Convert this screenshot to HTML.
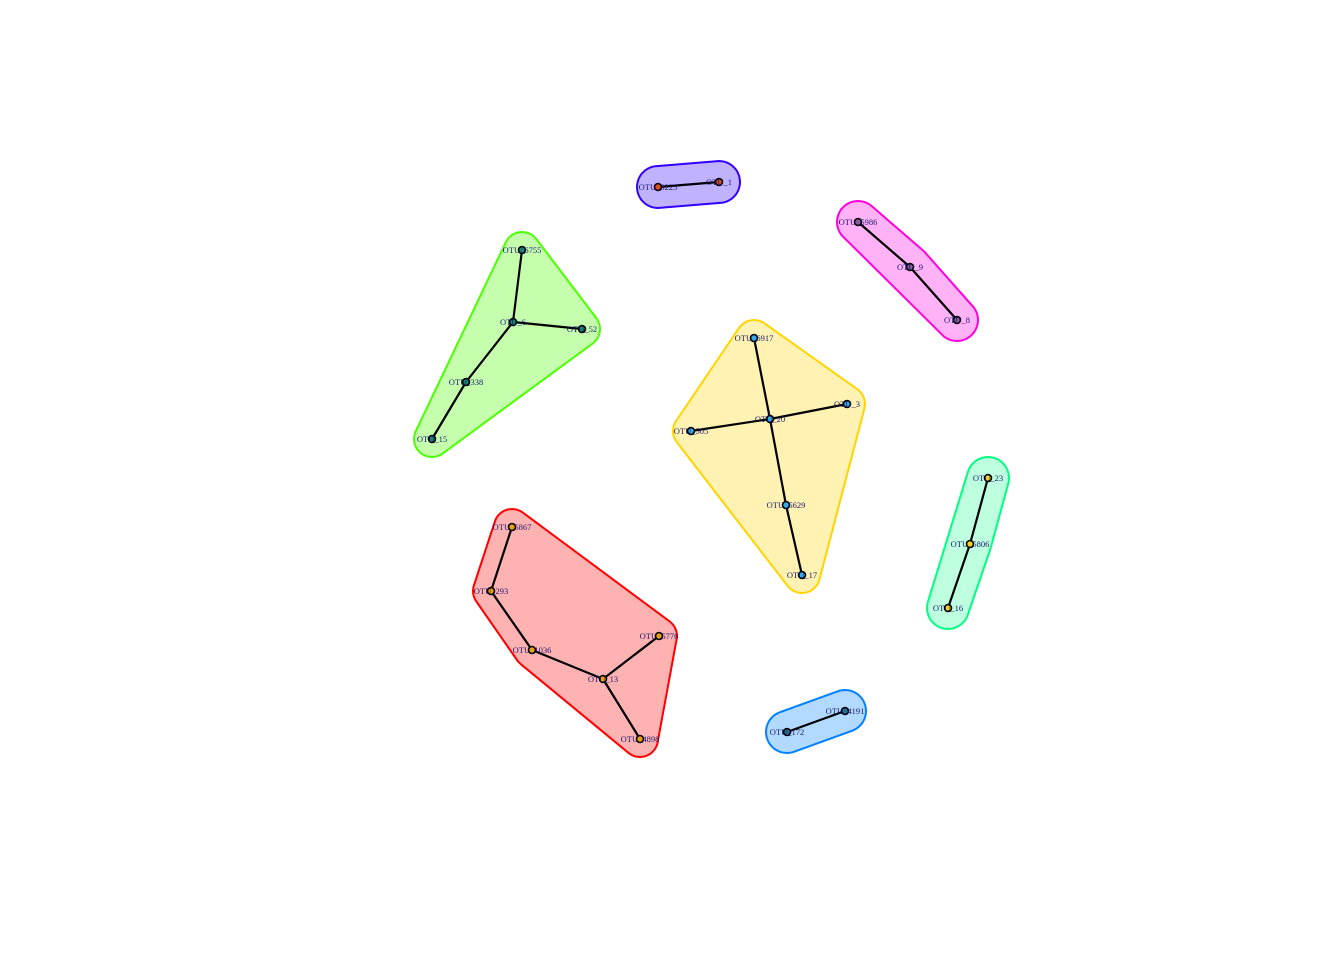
<!DOCTYPE html>
<html><head><meta charset="utf-8"><style>body{margin:0;background:#fff}svg{display:block}</style></head>
<body>
<svg id="net" width="1344" height="960" viewBox="0 0 1344 960" xmlns="http://www.w3.org/2000/svg">
<g id="hulls"></g><g id="edges"></g><g id="nodes"></g><g id="labels"></g>
</svg>
<script>
const groupNames=["green","yellow","red","purple","pink","mint","blue"];
const groupStroke=["#4cff00","#ffd400","#ff0000","#3300ff","#ff00dd","#00ff80","#0080ff"];
const groupFill=["rgba(76,255,0,0.32)","rgba(255,212,0,0.3)","rgba(255,0,0,0.3)","rgba(51,0,255,0.3)","rgba(255,0,221,0.3)","rgba(0,255,128,0.26)","rgba(0,128,255,0.3)"];
const nodeColor=["#17806f","#3ba8e0","#e8a010","#d9501e","#8a5a9a","#f2d024","#1f6f95"];
const nodeNames=["OTU_6755","OTU_6","OTU_52","OTU_338","OTU_15",
"OTU_6917","OTU_3","OTU_20","OTU_505","OTU_5629","OTU_17",
"OTU_5867","OTU_293","OTU_1036","OTU_5776","OTU_13","OTU_4898",
"OTU_3225","OTU_1","OTU_5986","OTU_9","OTU_8",
"OTU_23","OTU_5806","OTU_16","OTU_4191","OTU_172"];
const nodeX=[522,513,582,466,432, 754,847,770,691,786,802, 512,491,532,659,603,640, 658,719,858,910,957, 988,970,948, 845,787];
const nodeY=[250,322,329,382,439, 338,404,419,431,505,575, 527,591,650,636,679,739, 187,182,222,267,320, 478,544,608, 711,732];
const nodeGroup=[0,0,0,0,0, 1,1,1,1,1,1, 2,2,2,2,2,2, 3,3, 4,4,4, 5,5,5, 6,6];
const edgeFrom=[0,1,1,3, 5,7,7,7,9, 11,12,13,15,15, 17, 19,20, 22,23, 25];
const edgeTo  =[1,2,3,4, 7,6,8,9,10, 12,13,15,14,16, 18, 20,21, 23,24, 26];
const NS="http://www.w3.org/2000/svg";
function hull(pts){pts=pts.slice().sort((a,b)=>a[0]-b[0]||a[1]-b[1]);
 const cr=(o,a,b)=>(a[0]-o[0])*(b[1]-o[1])-(a[1]-o[1])*(b[0]-o[0]);
 const lo=[],up=[];for(const p of pts){while(lo.length>=2&&cr(lo[lo.length-2],lo[lo.length-1],p)<=0)lo.pop();lo.push(p);}
 for(let i=pts.length-1;i>=0;i--){const p=pts[i];while(up.length>=2&&cr(up[up.length-2],up[up.length-1],p)<=0)up.pop();up.push(p);}
 up.pop();lo.pop();return lo.concat(up);}
function roundedHull(pts,R){const all=[];
 pts.forEach(p=>{for(let k=0;k<48;k++){const a=k/48*2*Math.PI;all.push([p[0]+R*Math.cos(a),p[1]+R*Math.sin(a)]);}});
 const h=hull(all);return "M"+h.map(p=>p[0].toFixed(1)+" "+p[1].toFixed(1)).join(" L")+"Z";}
const gH=document.getElementById("hulls");
groupNames.forEach((g,gi)=>{const pts=[];nodeX.forEach((x,i)=>{if(nodeGroup[i]===gi)pts.push([x,nodeY[i]]);});
 const R=pts.length<=3?21:18;
 const p=document.createElementNS(NS,"path");p.setAttribute("d",roundedHull(pts,R));
 p.setAttribute("fill",groupFill[gi]);p.setAttribute("stroke",groupStroke[gi]);p.setAttribute("stroke-width","2");p.setAttribute("stroke-linejoin","round");
 
 
 gH.appendChild(p);});
const gE=document.getElementById("edges");
edgeFrom.forEach((f,i)=>{const t=edgeTo[i];const l=document.createElementNS(NS,"line");
 l.setAttribute("x1",nodeX[f]);l.setAttribute("y1",nodeY[f]);l.setAttribute("x2",nodeX[t]);l.setAttribute("y2",nodeY[t]);
 l.setAttribute("stroke","#000");l.setAttribute("stroke-width","2.2");
 
 
 gE.appendChild(l);});
const gN=document.getElementById("nodes"),gL=document.getElementById("labels");
nodeNames.forEach((nm,i)=>{const c=document.createElementNS(NS,"circle");
 c.setAttribute("cx",nodeX[i]);c.setAttribute("cy",nodeY[i]);c.setAttribute("r","3.5");
 c.setAttribute("fill",nodeColor[nodeGroup[i]]);c.setAttribute("stroke","#000");c.setAttribute("stroke-width","1.6");
 
 
 gN.appendChild(c);
 const t=document.createElementNS(NS,"text");t.setAttribute("x",nodeX[i]);t.setAttribute("y",nodeY[i]+3);
 t.setAttribute("text-anchor","middle");t.setAttribute("font-family","Liberation Serif, serif");t.setAttribute("font-size","8.5");t.setAttribute("fill","#1a1a70");
 t.textContent=nm;
 
 
 gL.appendChild(t);});
</script>
</body></html>
